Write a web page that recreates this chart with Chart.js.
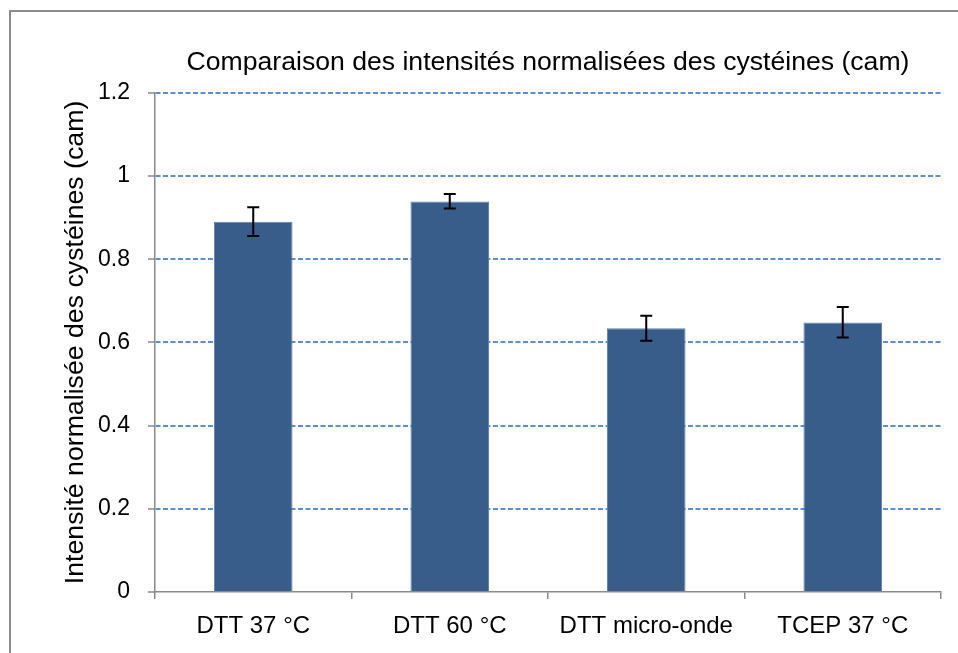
<!DOCTYPE html>
<html>
<head>
<meta charset="utf-8">
<script src="https://cdn.jsdelivr.net/npm/chart.js@4/dist/chart.umd.min.js"></script>
<style>
  html, body { margin: 0; padding: 0; background: #ffffff; }
  #wrap { width: 958px; height: 653px; position: relative; }
</style>
</head>
<body>
<div id="wrap"><canvas id="chart" width="958" height="653"></canvas></div>
<script>
// Reduction conditions and mean normalised cysteine (cam) intensities
const categories = ['DTT 37 °C', 'DTT 60 °C', 'DTT micro-onde', 'TCEP 37 °C'];
const intensities = [0.890, 0.939, 0.634, 0.648];
// Error bar half-widths (above / below the mean)
const errorPlus = [0.035, 0.018, 0.030, 0.037];
const errorMinus = [0.034, 0.017, 0.030, 0.036];
// Value axis ticks
const yTickValues = [0, 0.2, 0.4, 0.6, 0.8, 1, 1.2];
const yTickLabels = ['0', '0.2', '0.4', '0.6', '0.8', '1', '1.2'];

const FONT = '"Liberation Sans", Arial, sans-serif';
const AXIS_GREY = '#8a8a8a';

// White background and grey outer frame
const frame = {
  id: 'frame',
  beforeDraw(chart) {
    const ctx = chart.ctx;
    ctx.save();
    ctx.fillStyle = '#ffffff';
    ctx.fillRect(0, 0, chart.width, chart.height);
    ctx.strokeStyle = '#8c8c8c';
    ctx.lineWidth = 2;
    ctx.strokeRect(10, 11, chart.width + 20, chart.height + 20);
    ctx.restore();
  }
};

// Vertical error bars with caps, positioned through the chart scales
const errorBars = {
  id: 'errorBars',
  afterDatasetsDraw(chart) {
    const ctx = chart.ctx;
    const x = chart.scales.x;
    const y = chart.scales.y;
    ctx.save();
    ctx.strokeStyle = '#000000';
    ctx.lineWidth = 2;
    intensities.forEach((v, i) => {
      const cx = x.getPixelForValue(i);
      const top = y.getPixelForValue(v + errorPlus[i]);
      const bot = y.getPixelForValue(v - errorMinus[i]);
      ctx.beginPath();
      ctx.moveTo(cx, top); ctx.lineTo(cx, bot);
      ctx.moveTo(cx - 6, top); ctx.lineTo(cx + 6, top);
      ctx.moveTo(cx - 6, bot); ctx.lineTo(cx + 6, bot);
      ctx.stroke();
    });
    ctx.restore();
  }
};

new Chart(document.getElementById('chart'), {
  type: 'bar',
  data: {
    labels: categories,
    datasets: [{
      data: intensities,
      backgroundColor: '#385d8a',
      borderColor: '#6182b0',
      borderWidth: 1,
      barPercentage: 0.4,
      categoryPercentage: 1
    }]
  },
  options: {
    responsive: false,
    animation: false,
    devicePixelRatio: 1,
    layout: { padding: { left: 56, right: 17, top: 0, bottom: 0 } },
    plugins: {
      legend: { display: false },
      tooltip: { enabled: false },
      title: {
        display: true,
        fullSize: false,
        text: 'Comparaison des intensités normalisées des cystéines (cam)',
        color: '#000000',
        font: { family: FONT, size: 26.6, weight: 'normal' },
        padding: { top: 47, bottom: 14 }
      }
    },
    scales: {
      x: {
        afterFit(s) { s.height = 61; },
        ticks: {
          color: '#000000',
          padding: 13,
          maxRotation: 0,
          font: { family: FONT, size: 24 }
        },
        grid: {
          drawOnChartArea: false,
          offset: true,
          tickLength: 7,
          color: AXIS_GREY,
          lineWidth: 1.5
        },
        border: { color: AXIS_GREY, width: 1.5 }
      },
      y: {
        min: 0,
        max: 1.2,
        afterFit(s) { s.width = 99; },
        afterBuildTicks(s) { s.ticks = yTickValues.map(v => ({ value: v })); },
        ticks: {
          color: '#000000',
          padding: 18,
          font: { family: FONT, size: 23 },
          callback: (v, i) => yTickLabels[i]
        },
        grid: {
          color: c => (c.tick && c.tick.value === 0) ? 'rgba(0,0,0,0)' : '#5f8fd2',
          lineWidth: 2,
          tickLength: 7,
          tickColor: AXIS_GREY,
          tickWidth: 1.5
        },
        border: { color: AXIS_GREY, width: 1.5, dash: [5, 2.5] },
        title: {
          display: true,
          text: 'Intensité normalisée des cystéines (cam)',
          color: '#000000',
          font: { family: FONT, size: 26.7 },
          padding: { top: 4, bottom: 4 }
        }
      }
    }
  },
  plugins: [frame, errorBars]
});
</script>
</body>
</html>
